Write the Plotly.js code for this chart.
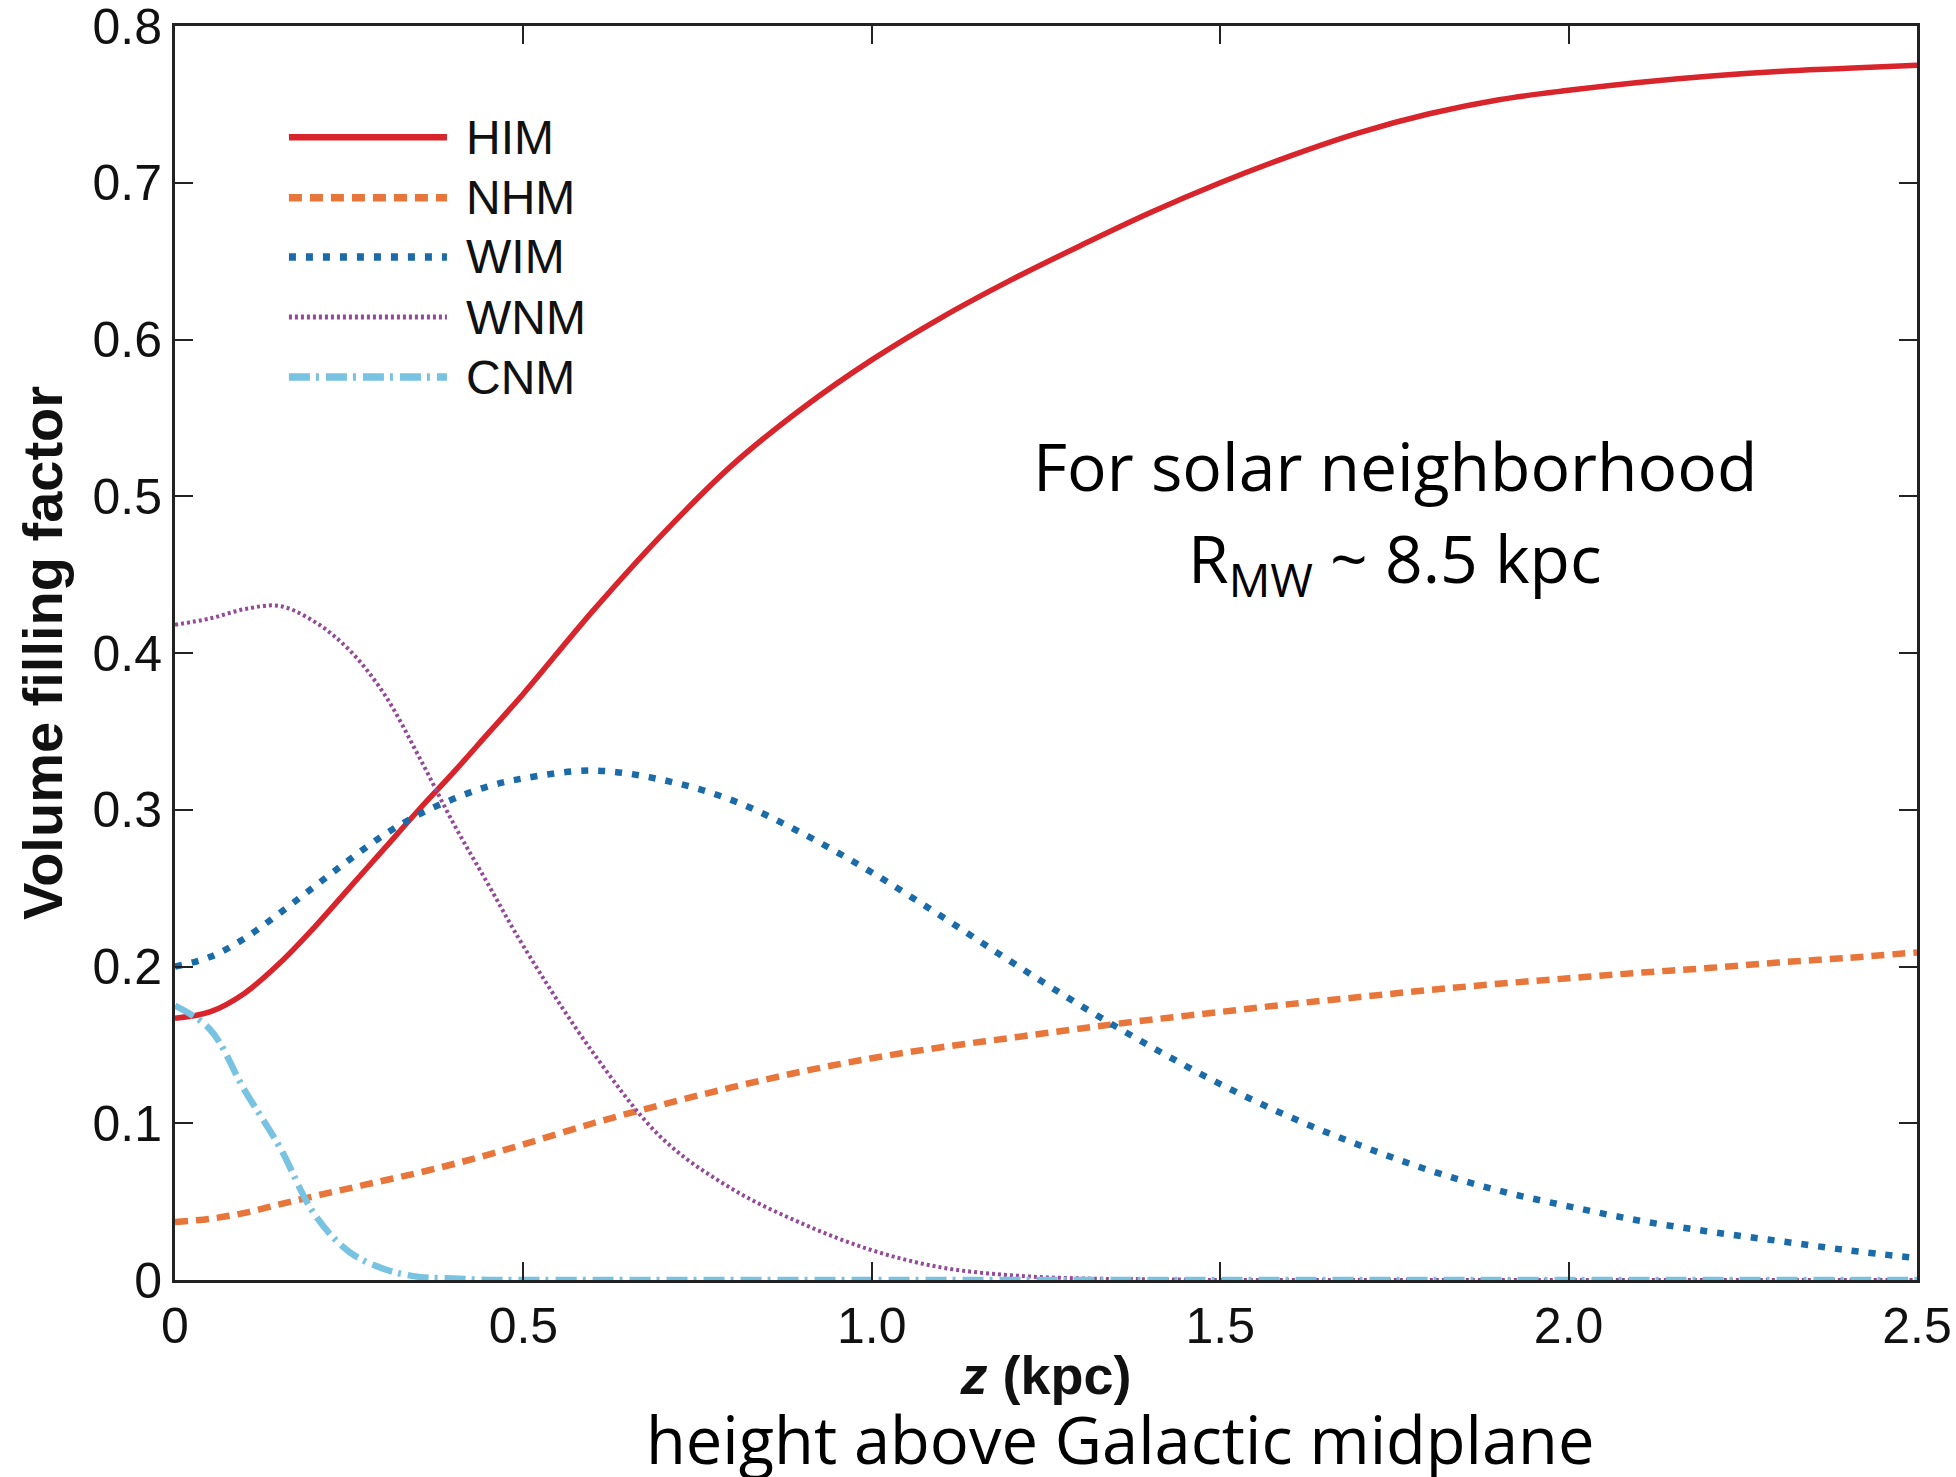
<!DOCTYPE html>
<html>
<head>
<meta charset="utf-8">
<script src="https://cdn.plot.ly/plotly-3.0.1.min.js"></script>
<style>html,body{margin:0;padding:0;background:#fff;}#chart{width:1956px;height:1477px;}</style>
</head>
<body>
<div id="chart"></div>
<script>
// Height above Galactic midplane (kpc)
const z = [0, 0.05, 0.1, 0.15, 0.2, 0.25, 0.3, 0.35, 0.4, 0.45, 0.5, 0.6, 0.7, 0.8, 0.9, 1.0, 1.1, 1.2, 1.3, 1.4, 1.5, 1.6, 1.7, 1.8, 1.9, 2.0, 2.1, 2.2, 2.3, 2.4, 2.5];
// Volume filling factors
const HIM = [0.167, 0.171, 0.183, 0.202, 0.225, 0.250, 0.275, 0.300, 0.324, 0.349, 0.374, 0.427, 0.476, 0.520, 0.556, 0.587, 0.614, 0.638, 0.660, 0.681, 0.700, 0.717, 0.732, 0.744, 0.753, 0.759, 0.764, 0.768, 0.771, 0.773, 0.775];
const NHM = [0.037, 0.039, 0.0428, 0.0483, 0.0535, 0.0585, 0.0635, 0.0685, 0.074, 0.080, 0.0865, 0.100, 0.112, 0.123, 0.133, 0.1415, 0.1485, 0.1545, 0.1605, 0.166, 0.171, 0.176, 0.1805, 0.185, 0.189, 0.1925, 0.196, 0.199, 0.2025, 0.2055, 0.209];
const WIM = [0.200, 0.206, 0.218, 0.234, 0.251, 0.268, 0.284, 0.297, 0.307, 0.315, 0.320, 0.325, 0.319, 0.306, 0.285, 0.260, 0.232, 0.203, 0.175, 0.149, 0.125, 0.104, 0.086, 0.070, 0.057, 0.047, 0.038, 0.031, 0.025, 0.019, 0.014];
const WNM = [0.418, 0.422, 0.428, 0.430, 0.420, 0.402, 0.374, 0.334, 0.291, 0.252, 0.213, 0.145, 0.090, 0.058, 0.036, 0.019, 0.008, 0.003, 0.001, 0.0005, 0, 0, 0, 0, 0, 0, 0, 0, 0, 0, 0];
const CNM = [0.175, 0.160, 0.121, 0.085, 0.042, 0.018, 0.007, 0.002, 0.001, 0, 0, 0, 0, 0, 0, 0, 0, 0, 0, 0, 0, 0, 0, 0, 0, 0, 0, 0, 0, 0, 0];

const seriesNames = ['HIM', 'NHM', 'WIM', 'WNM', 'CNM'];
const seriesData = [HIM, NHM, WIM, WNM, CNM];

const xTicks = [0, 0.5, 1.0, 1.5, 2.0, 2.5];
const xTickText = ['0', '0.5', '1.0', '1.5', '2.0', '2.5'];
const yTicks = [0, 0.1, 0.2, 0.3, 0.4, 0.5, 0.6, 0.7, 0.8];
const yTickText = ['0', '0.1', '0.2', '0.3', '0.4', '0.5', '0.6', '0.7', '0.8'];

const styles = [
  {color: '#d8242b', width: 5.5, dash: 'solid'},
  {color: '#e8763a', width: 6.5, dash: '13px,8px'},
  {color: '#1b6ba8', width: 6.5, dash: '7px,10px'},
  {color: '#954a99', width: 4, dash: '3px,3px'},
  {color: '#78c2e2', width: 6.5, dash: '21px,6px,3px,7px'}
];

const traces = seriesNames.map((n, i) => ({
  type: 'scatter', mode: 'lines', name: n, x: z, y: seriesData[i],
  line: {color: styles[i].color, width: styles[i].width, dash: styles[i].dash, shape: 'spline', smoothing: 1.0},
  hoverinfo: 'x+y+name'
}));

// manual legend (long sample lines)
const legX0 = 0.0654, legX1 = 0.1561, legTextX = 0.1660;
const legY = [0.9112, 0.8630, 0.8158, 0.7679, 0.7200];
const shapes = seriesNames.map((n, i) => ({
  type: 'line', xref: 'paper', yref: 'paper', x0: legX0, x1: legX1, y0: legY[i], y1: legY[i],
  line: {color: styles[i].color, width: styles[i].width + 1, dash: styles[i].dash}
}));
const annotations = seriesNames.map((n, i) => ({
  xref: 'paper', yref: 'paper', x: legTextX, y: legY[i], xanchor: 'left', yanchor: 'middle',
  text: n, showarrow: false, font: {family: 'Liberation Sans, Arial, sans-serif', size: 48, color: '#111'}
}));
annotations.push(
  {xref: 'paper', yref: 'paper', x: 0.7004, y: 0.6502, xanchor: 'center', yanchor: 'middle', showarrow: false,
   text: 'For solar neighborhood', font: {family: 'Open Sans, sans-serif', size: 66, color: '#000'}},
  {xref: 'paper', yref: 'paper', x: 0.7004, y: 0.5726, xanchor: 'center', yanchor: 'middle', showarrow: false,
   text: 'R<sub>MW</sub> ~ 8.5 kpc', font: {family: 'Open Sans, sans-serif', size: 66, color: '#000'}},
  {xref: 'paper', yref: 'paper', x: 0.5425, y: -0.1270, xanchor: 'center', yanchor: 'middle', showarrow: false,
   text: 'height above Galactic midplane', font: {family: 'Open Sans, sans-serif', size: 65, color: '#000'}}
);

const axisCommon = {
  showline: true, linewidth: 3, linecolor: '#222', mirror: 'ticks',
  ticks: 'inside', ticklen: 18, tickwidth: 2, tickcolor: '#222',
  showgrid: false, zeroline: false, automargin: false, ticklabeloverflow: 'allow',
  tickfont: {family: 'Liberation Sans, Arial, sans-serif', size: 50, color: '#111'}
};

const layout = {
  width: 1956, height: 1477,
  margin: {l: 175, r: 39, t: 26, b: 197},
  paper_bgcolor: '#fff', plot_bgcolor: '#fff',
  showlegend: false,
  xaxis: Object.assign({}, axisCommon, {
    range: [0, 2.5], tickmode: 'array', tickvals: xTicks, ticktext: xTickText, ticklabelstandoff: 0,
    title: {text: '<b><i>z</i> (kpc)</b>', font: {family: 'Liberation Sans, Arial, sans-serif', size: 54, color: '#111'}, standoff: 4}
  }),
  yaxis: Object.assign({}, axisCommon, {
    range: [0, 0.8], tickmode: 'array', tickvals: yTicks, ticktext: yTickText, ticklabelstandoff: 0,
    title: {text: '<b>Volume filling factor</b>', font: {family: 'Liberation Sans, Arial, sans-serif', size: 56, color: '#111'}, standoff: 12}
  }),
  shapes: shapes,
  annotations: annotations
};

Plotly.newPlot('chart', traces, layout, {displayModeBar: false, staticPlot: true});
</script>
</body>
</html>
